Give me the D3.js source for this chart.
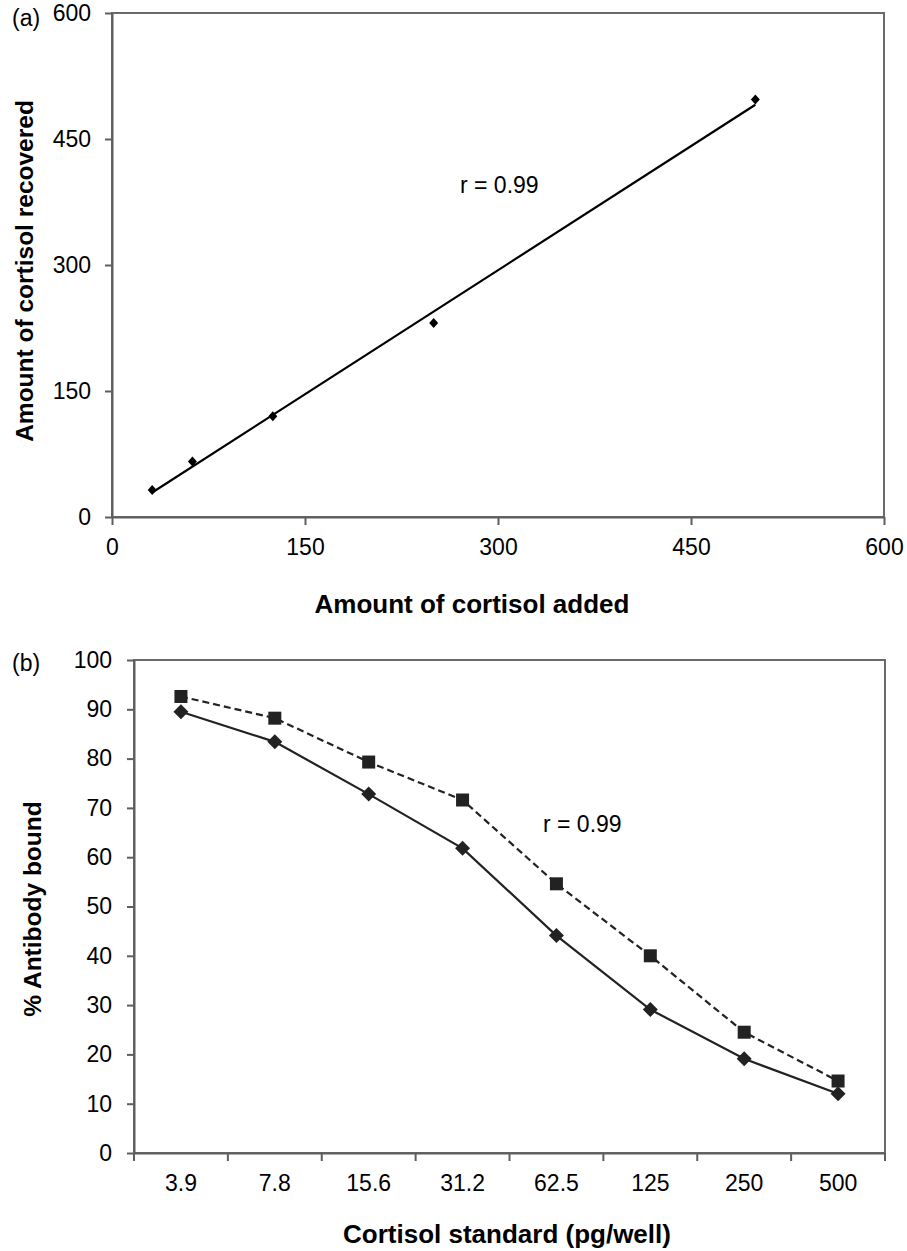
<!DOCTYPE html>
<html lang="en">
<head>
<meta charset="utf-8">
<title>Cortisol recovery and standard curve</title>
<script src="https://cdn.jsdelivr.net/npm/d3@7"></script>
<style>
    body { margin: 0; background: #fff; }
    svg { display: block; font-family: "Liberation Sans", Arial, sans-serif; }
    .axis path, .axis line { stroke: #5e5e5e; stroke-width: 2px; }
    .axis text { font-size: 23px; fill: #000; }
    .title { font-weight: bold; fill: #000; }
</style>
</head>
<body>
<script>
    // panel (a): recovery
    var addedA = [31.25, 62.5, 125, 250, 500];
    var recoveredA = [32, 66, 120, 231, 497];
    var ticksA = [0, 150, 300, 450, 600];

    // panel (b): standard curves
    var standardsB = ['3.9', '7.8', '15.6', '31.2', '62.5', '125', '250', '500'];
    var boundSolid = [89.5, 83.4, 72.8, 61.8, 44.1, 29.1, 19.1, 12.0];
    var boundDashed = [92.6, 88.2, 79.3, 71.6, 54.6, 40.0, 24.5, 14.6];
    var ticksB = [0, 10, 20, 30, 40, 50, 60, 70, 80, 90, 100];

    var width = 907, height = 1251;
    var svg = d3.select('body').append('svg')
        .attr('width', width)
        .attr('height', height);

    // ---------- (a) ----------
    var ax = d3.scaleLinear().domain([0, 600]).range([112, 884]);
    var ay = d3.scaleLinear().domain([0, 600]).range([517, 13]);

    var ga = svg.append('g');
    ga.append('rect')
        .attr('x', ax(0)).attr('y', ay(600))
        .attr('width', ax(600) - ax(0)).attr('height', ay(0) - ay(600))
        .attr('fill', 'none').attr('stroke', '#6a6a6a').attr('stroke-width', 2);

    ga.append('g').attr('class', 'axis')
        .attr('transform', 'translate(0,' + ay(0) + ')')
        .call(d3.axisBottom(ax).tickValues(ticksA).tickSize(8).tickSizeOuter(0).tickPadding(14));
    ga.append('g').attr('class', 'axis')
        .attr('transform', 'translate(' + ax(0) + ',0)')
        .call(d3.axisLeft(ay).tickValues(ticksA).tickSize(7).tickSizeOuter(0).tickPadding(14));

    // least squares fit
    var mx = d3.mean(addedA), my = d3.mean(recoveredA);
    var sxy = d3.sum(addedA, function(d, i){ return (d - mx) * (recoveredA[i] - my); });
    var sxx = d3.sum(addedA, function(d){ return (d - mx) * (d - mx); });
    var slope = sxy / sxx, icept = my - slope * mx;
    var xr = d3.extent(addedA);
    ga.append('line')
        .attr('x1', ax(xr[0])).attr('y1', ay(icept + slope * xr[0]))
        .attr('x2', ax(xr[1])).attr('y2', ay(icept + slope * xr[1]))
        .attr('stroke', '#000').attr('stroke-width', 2.2);

    ga.selectAll('path.pt')
        .data(addedA)
        .enter().append('path')
        .attr('class', 'pt')
        .attr('d', 'M0,-5L4.5,0L0,5L-4.5,0Z')
        .attr('fill', '#000')
        .attr('transform', function(d, i){ return 'translate(' + ax(d) + ',' + ay(recoveredA[i]) + ')'; });

    ga.append('text').attr('x', 460).attr('y', 193)
        .style('font-size', '23px').text('r = 0.99');
    ga.append('text').attr('x', 12).attr('y', 26)
        .style('font-size', '23px').text('(a)');
    ga.append('text').attr('class', 'title')
        .attr('x', 472).attr('y', 613).attr('text-anchor', 'middle')
        .style('font-size', '26px').text('Amount of cortisol added');
    ga.append('text').attr('class', 'title')
        .attr('transform', 'translate(33,271) rotate(-90)').attr('text-anchor', 'middle')
        .style('font-size', '24.5px').text('Amount of cortisol recovered');

    // ---------- (b) ----------
    var bx = d3.scaleBand().domain(standardsB).range([134, 885]).padding(0);
    var by = d3.scaleLinear().domain([0, 100]).range([1153, 660]);

    var gb = svg.append('g');
    gb.append('rect')
        .attr('x', 134).attr('y', by(100))
        .attr('width', 885 - 134).attr('height', by(0) - by(100))
        .attr('fill', 'none').attr('stroke', '#6a6a6a').attr('stroke-width', 2);

    var xAxisB = gb.append('g').attr('class', 'axis')
        .attr('transform', 'translate(0,' + by(0) + ')')
        .call(d3.axisBottom(bx).tickSize(0).tickSizeOuter(0).tickPadding(22));
    xAxisB.selectAll('.tick line').remove();
    // ticks on category boundaries
    var bounds = standardsB.map(function(d){ return bx(d); }).concat([bx.range()[1]]);
    xAxisB.selectAll('line.bound')
        .data(bounds)
        .enter().append('line')
        .attr('class', 'bound')
        .attr('x1', function(d){ return d; }).attr('x2', function(d){ return d; })
        .attr('y1', 0).attr('y2', 8);

    gb.append('g').attr('class', 'axis')
        .attr('transform', 'translate(134,0)')
        .call(d3.axisLeft(by).tickValues(ticksB).tickSize(7).tickSizeOuter(0).tickPadding(15));

    var cx = function(d){ return bx(d) + bx.bandwidth() / 2; };
    var lineB = d3.line()
        .x(function(d, i){ return cx(standardsB[i]); })
        .y(function(d){ return by(d); });

    gb.append('path').datum(boundDashed)
        .attr('d', lineB)
        .attr('fill', 'none').attr('stroke', '#222').attr('stroke-width', 2.2)
        .attr('stroke-dasharray', '7,4');
    gb.append('path').datum(boundSolid)
        .attr('d', lineB)
        .attr('fill', 'none').attr('stroke', '#222').attr('stroke-width', 2.2);

    gb.selectAll('rect.sq')
        .data(boundDashed)
        .enter().append('rect')
        .attr('class', 'sq')
        .attr('x', function(d, i){ return cx(standardsB[i]) - 6.5; })
        .attr('y', function(d){ return by(d) - 6.5; })
        .attr('width', 13).attr('height', 13)
        .attr('fill', '#222');

    gb.selectAll('path.dm')
        .data(boundSolid)
        .enter().append('path')
        .attr('class', 'dm')
        .attr('d', 'M0,-7.5L7.5,0L0,7.5L-7.5,0Z')
        .attr('fill', '#222')
        .attr('transform', function(d, i){ return 'translate(' + cx(standardsB[i]) + ',' + by(d) + ')'; });

    gb.append('text').attr('x', 543).attr('y', 832)
        .style('font-size', '23px').text('r = 0.99');
    gb.append('text').attr('x', 12).attr('y', 671)
        .style('font-size', '23px').text('(b)');
    gb.append('text').attr('class', 'title')
        .attr('x', 507).attr('y', 1243).attr('text-anchor', 'middle')
        .style('font-size', '26px').text('Cortisol standard (pg/well)');
    gb.append('text').attr('class', 'title')
        .attr('transform', 'translate(41,909) rotate(-90)').attr('text-anchor', 'middle')
        .style('font-size', '24.5px').text('% Antibody bound');
</script>
</body>
</html>
